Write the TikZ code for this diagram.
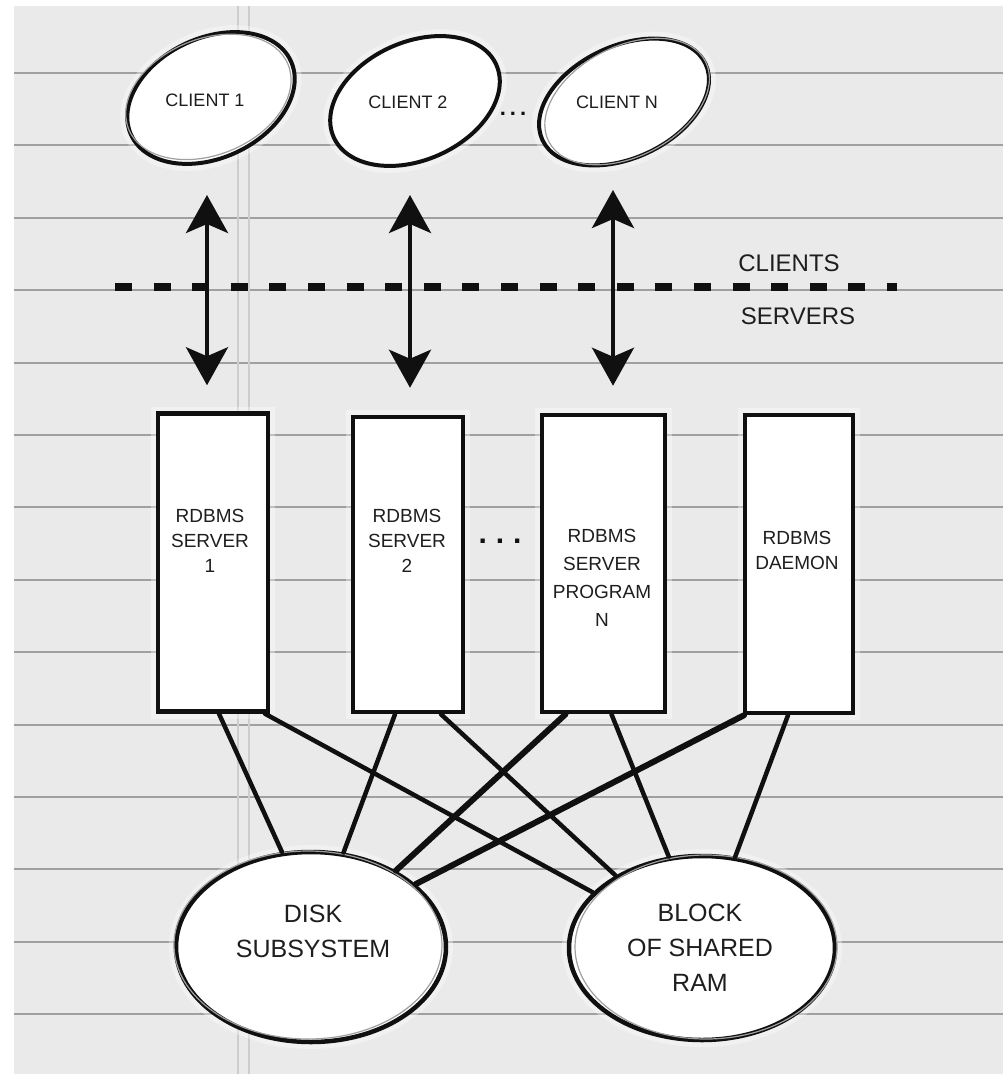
\documentclass[tikz,border=0pt]{standalone}
\usepackage{fontspec}
\setmainfont{Liberation Sans}
\usetikzlibrary{arrows.meta,shapes.geometric}

\definecolor{paper}{HTML}{EAEAEA}
\definecolor{rulegray}{HTML}{A0A0A0}
\definecolor{margingray}{HTML}{CDCDCD}
\definecolor{ink}{HTML}{101010}
\definecolor{letter}{HTML}{1E1E1E}

\begin{document}
\begin{tikzpicture}[x=1pt,y=-1pt,
  paperline/.style={draw=rulegray,line width=2pt},
  marginline/.style={draw=margingray,line width=1.3pt},
  halo/.style={preaction={draw=white,line width=14pt,draw opacity=0.35}},
  clientoval/.style={draw=ink,line width=4pt,fill=white,halo},
  sketchline/.style={draw=ink!40,line width=1.2pt},
  lettering/.style={text=letter,inner sep=0pt,align=center},
  clienttext/.style={lettering,font=\fontsize{18}{22}\selectfont},
  servertext/.style={lettering,font=\fontsize{19}{25}\selectfont},
  storetext/.style={lettering,font=\fontsize{25}{35}\selectfont},
  sidetext/.style={lettering,font=\fontsize{24}{28}\selectfont},
  dots/.style={text=ink,inner sep=0pt,font=\bfseries\fontsize{#1}{#1}\selectfont},
  serverbox/.style={draw=ink,line width=4.5pt,fill=white,halo,inner sep=0pt,minimum height=298pt},
  store/.style={ellipse,draw=ink,line width=4.5pt,fill=white,halo,inner sep=0pt},
  biarrow/.style={draw=ink,line width=4pt,
    {Stealth[length=38pt,width=42pt,inset=9pt]}-{Stealth[length=38pt,width=42pt,inset=9pt]}},
  link/.style={draw=ink,line width=4.5pt,line cap=round},
  heavylink/.style={link,line width=6pt},
  divider/.style={draw=ink,line width=8pt,dash pattern=on 17pt off 21.6pt}
]
\useasboundingbox (0,0) rectangle (1003,1074);

% ruled notebook paper
\fill[white] (0,0) rectangle (1003,1074);
\fill[paper] (14,6) rectangle (1003,1074);
\foreach \k in {0,...,13}
  \draw[paperline] (14,73+72.4*\k) -- (1003,73+72.4*\k);
\draw[marginline] (238,6) -- (238,1074);
\draw[marginline] (249,6) -- (249,1074);

% client ovals, tilted as drawn by hand
\coordinate (c1o) at (211,98);
\coordinate (c2o) at (415,101);
\coordinate (cno) at (624,102);
\draw[clientoval,rotate around={25:(c1o)}] (c1o) ellipse [x radius=88, y radius=60];
\draw[clientoval,rotate around={24:(c2o)}] (c2o) ellipse [x radius=89, y radius=59];
\draw[clientoval,rotate around={25:(cno)}] (cno) ellipse [x radius=90, y radius=56];
\draw[sketchline,rotate around={22:(c1o)}] ([shift={(-2,-2)}]c1o) ellipse [x radius=86, y radius=58];
\draw[sketchline,rotate around={27:(cno)}] ([shift={(3,1)}]cno) ellipse [x radius=88, y radius=55];

\node[clienttext] (c1) at (205,100) {CLIENT 1};
\node[clienttext] (c2) at (408,102) {CLIENT 2};
\node[clienttext] (cn) at (617,102) {CLIENT N};
\node[dots=22] (cdots) at (513,114) {.\hspace{4pt}.\hspace{4pt}.};

% client / server boundary
\draw[divider] (115,287) -- (897,287);
\node[sidetext] (clientside) at (789,263) {CLIENTS};
\node[sidetext] (serverside) at (798,316) {SERVERS};

% server processes
\node[serverbox,minimum width=110pt] (s1) at (213,562.5) {};
\node[serverbox,minimum width=110pt,minimum height=295pt] (s2) at (408,564.5) {};
\node[serverbox,minimum width=123pt,minimum height=297pt] (sn) at (603.5,563.5) {};
\node[serverbox,minimum width=108pt] (sd) at (799,564) {};

\node[servertext] (s1t) at (210,541) {RDBMS\\SERVER\\1};
\node[servertext] (s2t) at (407,541) {RDBMS\\SERVER\\2};
\node[servertext,font=\fontsize{19}{28}\selectfont] (snt) at (602,578) {RDBMS\\SERVER\\PROGRAM\\N};
\node[servertext] (sdt) at (797,550) {RDBMS\\DAEMON};
\node[dots=30] (sdots) at (500,541) {.\hspace{9pt}.\hspace{9pt}.};

% shared resources
\node[store,minimum width=270pt,minimum height=190pt] (disk) at (311,947) {};
\node[store,minimum width=266pt,minimum height=184pt] (block) at (702,948) {};
\draw[sketchline] ([shift={(-3,-2)}]disk.center) ellipse [x radius=134, y radius=94];
\draw[sketchline] ([shift={(4,-1)}]block.center) ellipse [x radius=131, y radius=92];
\node[storetext] (diskt) at (313,931) {DISK\\SUBSYSTEM};
\node[storetext] (blockt) at (700,948) {BLOCK\\OF SHARED\\RAM};

% client <-> server traffic
\draw[biarrow] ([shift={(2,95)}]c1.center) -- ([shift={(-6,-26)}]s1.north);
\draw[biarrow] ([shift={(2,93)}]c2.center) -- ([shift={(2,-27)}]s2.north);
\draw[biarrow] ([shift={(-4,88)}]cn.center) -- ([shift={(9.5,-27)}]sn.north);

% every server reaches the disk and the shared memory
\draw[link] ([xshift=6pt]s1.south) -- (disk.107);
\draw[link] ([xshift=52pt]s1.south) -- (block.153);
\draw[link] ([xshift=-13pt]s2.south) -- (disk.71);
\draw[link] ([xshift=33pt]s2.south) -- (block.140);
\draw[heavylink] ([xshift=-38pt]sn.south) -- (disk.42);
\draw[link] ([xshift=8pt]sn.south) -- (block.110);
\draw[heavylink] ([xshift=-55pt]sd.south) -- (disk.31);
\draw[link] ([xshift=-11pt]sd.south) -- (block.70);
\end{tikzpicture}
\end{document}
